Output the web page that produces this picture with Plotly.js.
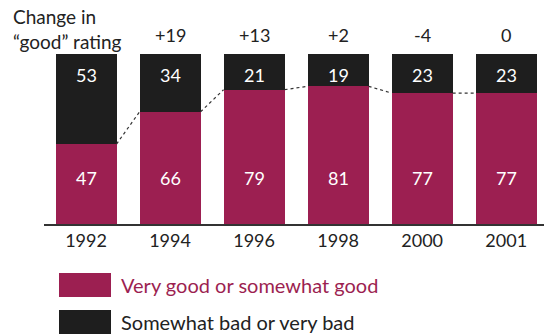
<!DOCTYPE html>
<html><head><meta charset="utf-8">
<script src="https://cdn.plot.ly/plotly-3.0.1.min.js"></script>
<style>html,body{margin:0;padding:0;background:#fff;}#chart{width:544px;height:334px;}</style>
</head><body><div id="chart"></div>
<script>
const years = ['1992','1994','1996','1998','2000','2001'];
const good = [47, 66, 79, 81, 77, 77];
const bad = [53, 34, 21, 19, 23, 23];
const goodName = 'Very good or somewhat good';
const badName = 'Somewhat bad or very bad';

const crimson = '#9c1f51';
const dark = '#1e1e1e';
const font = 'Lato, "Open Sans", sans-serif';
const idx = years.map((_, i) => i);
const barW = 0.726;

const traces = [
  {type:'bar', x: idx, y: good, width: barW, marker:{color: crimson}, name: goodName, hoverinfo:'none'},
  {type:'bar', x: idx, y: bad, width: barW, marker:{color: dark}, name: badName, hoverinfo:'none'}
];
// dotted connectors between tops of "good" segments
for (let i = 0; i < years.length - 1; i++) {
  traces.push({type:'scatter', mode:'lines', x:[i + barW/2, i + 1 - barW/2], y:[good[i], good[i+1]],
    line:{color:'#333', width:1.2, dash:'dot'}, showlegend:false, hoverinfo:'none'});
}

const annotations = [];
idx.forEach(i => {
  annotations.push({x:i, y:27, xref:'x', yref:'y', text:String(good[i]), showarrow:false,
    font:{family:font, size:18, color:'#fff'}});
  annotations.push({x:i, y:87.5, xref:'x', yref:'y', text:String(bad[i]), showarrow:false,
    font:{family:font, size:18, color:'#fff'}});
  if (i > 0) {
    const d = good[i] - good[i-1];
    annotations.push({x:i, y:35, xref:'x', yref:'paper', yanchor:'middle', text:(d > 0 ? '+' : '') + d,
      showarrow:false, font:{family:font, size:18, color:'#222'}});
  }
});
annotations.push({x:11, y:3, xref:'paper', yref:'paper', xanchor:'left', yanchor:'top', align:'left',
  text:'Change in<br>“good” rating', showarrow:false, font:{family:font, size:19, color:'#222'}});
// legend
annotations.push({x:119, y:285, xref:'paper', yref:'paper', xanchor:'left', yanchor:'middle', text:goodName,
  showarrow:false, font:{family:font, size:20, color:crimson}});
annotations.push({x:119, y:322, xref:'paper', yref:'paper', xanchor:'left', yanchor:'middle', text:badName,
  showarrow:false, font:{family:font, size:20, color:'#222'}});

const shapes = [
  {type:'rect', xref:'paper', yref:'paper', x0:59, x1:111, y0:273, y1:297, fillcolor:crimson, line:{width:0}},
  {type:'rect', xref:'paper', yref:'paper', x0:59, x1:111, y0:310, y1:340, fillcolor:dark, line:{width:0}}
];

// convert pixel positions (paper px) to paper fractions
const W = 544, H = 334, m = {l:44, r:0, t:54, b:110};
const pw = W - m.l - m.r, ph = H - m.t - m.b;
annotations.forEach(a => {
  if (a.xref === 'paper') a.x = (a.x - m.l) / pw;
  if (a.yref === 'paper') a.y = 1 - (a.y - m.t) / ph;
});
shapes.forEach(s => {
  s.x0 = (s.x0 - m.l) / pw; s.x1 = (s.x1 - m.l) / pw;
  s.y0 = 1 - (s.y0 - m.t) / ph; s.y1 = 1 - (s.y1 - m.t) / ph;
});

const layout = {
  width: W, height: H, margin: m, barmode:'stack', showlegend:false,
  paper_bgcolor:'#fff', plot_bgcolor:'#fff',
  xaxis:{range:[-0.5, 5.45], tickmode:'array', tickvals: idx, ticktext: years, showgrid:false, zeroline:false,
    showline:true, linecolor:'#333', linewidth:1.5, ticks:'', ticklen:0,
    tickfont:{family:font, size:18, color:'#222'}, fixedrange:true},
  yaxis:{range:[0,100], visible:false, fixedrange:true},
  annotations, shapes
};
Plotly.newPlot('chart', traces, layout, {displayModeBar:false, staticPlot:true});
</script></body></html>
